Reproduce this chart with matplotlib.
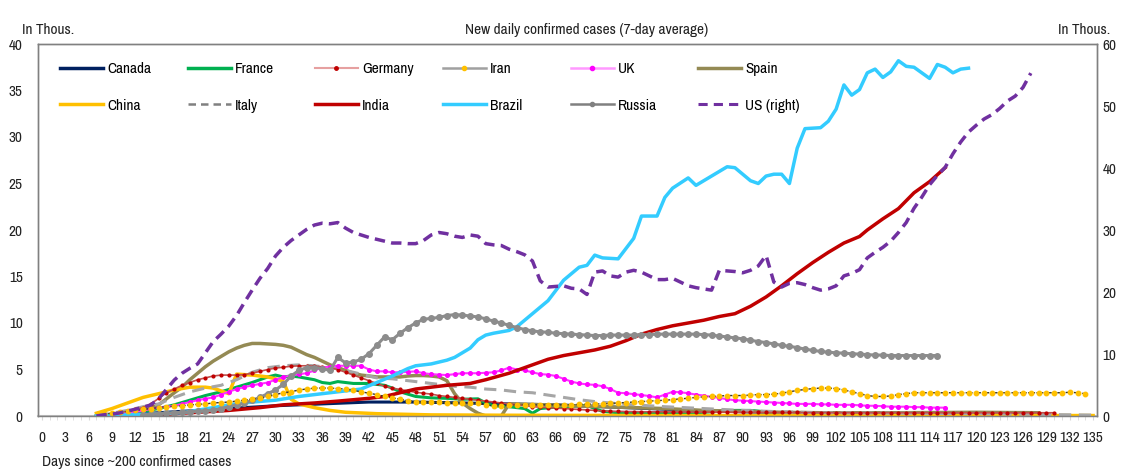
import matplotlib
matplotlib.use("Agg")
import matplotlib.pyplot as plt
from matplotlib import font_manager
from matplotlib.lines import Line2D
from matplotlib.legend import Legend
import numpy as np

names = {f.name for f in font_manager.fontManager.ttflist}
FONT = "Archivo Narrow" if "Archivo Narrow" in names else "Liberation Sans"
plt.rcParams["font.family"] = [FONT, "DejaVu Sans"]

# ---------------- data (thousands of new daily cases, 7-day avg) ----------------
canada_days = [7, 12, 18, 24, 30, 36, 42, 48, 54, 60, 66, 72, 78, 84, 90, 96, 102, 110, 118, 126]
canada_vals = [0, 0.2, 0.5, 0.8, 1.1, 1.3, 1.5, 1.5, 1.4, 1.3, 1.2, 1.0, 0.8, 0.6, 0.45, 0.35, 0.3, 0.3, 0.35, 0.35]

france_days = [7, 9, 11, 13, 15, 17, 19, 21, 23, 25, 27, 29, 30, 31, 32, 33, 35, 36, 37, 38, 40, 42, 44, 45,
               46, 48, 50, 52, 54, 56, 57, 58, 60, 62, 63, 64, 66, 68, 70, 71, 72, 74, 76, 80, 84, 87, 89,
               91, 93, 95, 100, 110, 120, 128]
france_vals = [0, 0.1, 0.25, 0.5, 0.8, 1.2, 1.7, 2.2, 2.6, 3.1, 3.6, 4.2, 4.4, 4.2, 4.3, 4.2, 3.9, 3.6, 3.5,
               3.7, 3.5, 3.5, 3.3, 3.0, 2.6, 2.1, 1.95, 1.9, 1.8, 1.85, 1.4, 1.1, 1.0, 0.8, 0.3, 0.8, 0.95,
               1.05, 1.15, 0.8, 0.5, 0.35, 0.3, 0.3, 0.35, 0.5, 0.6, 0.6, 0.45, 0.2, 0.15, 0.15, 0.15, 0.2]

germany_start = 8
germany_vals = [0.1, 0.2, 0.3, 0.5, 0.7, 0.9, 1.3, 1.9, 2.5, 2.9, 3.3, 3.6, 3.9, 4.1, 4.3, 4.4, 4.4, 4.4,
                4.45, 4.6, 4.8, 5.0, 5.15, 5.25, 5.35, 5.4, 5.4, 5.35, 5.3, 5.2, 5.0, 4.7, 4.4, 4.1, 3.8,
                3.5, 3.2, 3.0, 2.85, 2.7, 2.55, 2.45, 2.35, 2.2, 2.1, 2.0, 1.9, 1.8, 1.7, 1.6, 1.5, 1.4,
                1.3, 1.2, 1.1, 1.0, 0.95, 0.9, 0.85, 0.8, 0.75, 0.7, 0.65, 0.6, 0.55, 0.5, 0.5, 0.48,
                0.47, 0.46, 0.45, 0.45, 0.44, 0.44, 0.43, 0.43, 0.42, 0.42, 0.42, 0.41, 0.41, 0.4, 0.4,
                0.4, 0.4, 0.39, 0.39, 0.38, 0.38, 0.38, 0.37, 0.37, 0.37, 0.36, 0.36, 0.36, 0.35, 0.35,
                0.35, 0.35, 0.35, 0.35, 0.35, 0.35, 0.35, 0.35, 0.35, 0.35, 0.35, 0.35, 0.35, 0.35,
                0.35, 0.35, 0.35, 0.35, 0.35, 0.35, 0.35, 0.35, 0.35, 0.35, 0.35]

iran_start = 8
iran_vals = [0.2, 0.3, 0.4, 0.5, 0.6, 0.7, 0.8, 0.9, 1.0, 1.05, 1.1, 1.2, 1.25, 1.3, 1.4, 1.45, 1.5, 1.6,
             1.7, 1.8, 1.9, 2.1, 2.3, 2.5, 2.6, 2.8, 2.9, 3.0, 3.0, 3.0, 2.95, 2.9, 2.75, 2.6, 2.45, 2.3,
             2.1, 1.95, 1.8, 1.65, 1.55, 1.5, 1.5, 1.5, 1.45, 1.45, 1.4, 1.4, 1.35, 1.2, 1.1, 1.1, 1.15,
             1.2, 1.2, 1.2, 1.2, 1.2, 1.2, 1.2, 1.2, 1.25, 1.25, 1.3, 1.3, 1.35, 1.4, 1.45, 1.5, 1.55,
             1.6, 1.65, 1.7, 1.75, 1.85, 1.9, 2.0, 2.05, 2.1, 2.15, 2.2, 2.2, 2.2, 2.25, 2.3, 2.3, 2.35,
             2.45, 2.6, 2.75, 2.85, 2.95, 3.0, 3.0, 2.95, 2.8, 2.6, 2.4, 2.2, 2.1, 2.1, 2.15, 2.3, 2.4,
             2.5, 2.5, 2.5, 2.5, 2.5, 2.5, 2.5, 2.5, 2.5, 2.5, 2.5, 2.5, 2.5, 2.5, 2.5, 2.5, 2.5, 2.5,
             2.5, 2.5, 2.55, 2.5, 2.4]

uk_start = 9
uk_vals = [0.1, 0.2, 0.3, 0.45, 0.6, 0.75, 0.9, 1.0, 1.1, 1.3, 1.5, 1.7, 1.85, 2.0, 2.3, 2.6, 2.9, 3.1,
           3.3, 3.45, 3.6, 3.9, 4.2, 4.35, 4.5, 4.6, 4.9, 5.2, 5.3, 5.4, 5.4, 5.4, 5.4, 5.0, 4.8, 4.8,
           4.7, 4.7, 4.75, 4.8, 4.6, 4.5, 4.45, 4.4, 4.5, 4.6, 4.6, 4.6, 4.65, 4.7, 4.9, 5.2, 5.0, 4.9,
           4.7, 4.5, 4.45, 4.3, 4.0, 3.7, 3.5, 3.4, 3.35, 3.2, 2.9, 2.5, 2.45, 2.35, 2.25, 2.15, 2.0,
           2.3, 2.6, 2.55, 2.45, 2.3, 2.2, 2.05, 1.95, 1.8, 1.7, 1.65, 1.6, 1.55, 1.5, 1.45, 1.4, 1.35,
           1.3, 1.3, 1.3, 1.25, 1.25, 1.2, 1.2, 1.2, 1.15, 1.1, 1.1, 1.05, 1.0, 1.0, 1.0, 0.95, 0.95,
           0.9, 0.9, 0.9]

spain_days = [7, 9, 11, 13, 15, 17, 18, 19, 20, 21, 22, 23, 24, 25, 26, 27, 28, 29, 30, 31, 32, 33, 34,
              35, 36, 37, 38, 39, 40, 41, 42, 43, 44, 45, 46, 47, 48, 49, 50, 51, 52, 53, 54, 55, 56, 57,
              58, 59, 60, 62, 65, 68, 72, 76, 80, 85, 90, 95, 100, 110, 120, 128]
spain_vals = [0, 0.2, 0.4, 0.6, 1.2, 2.5, 3.1, 3.9, 4.6, 5.3, 5.9, 6.4, 6.9, 7.3, 7.6, 7.8, 7.8, 7.75,
              7.7, 7.6, 7.4, 7.0, 6.6, 6.3, 5.9, 5.5, 5.2, 4.9, 4.6, 4.4, 4.3, 4.2, 4.2, 4.2, 4.2, 4.3,
              4.35, 4.35, 4.3, 4.2, 3.8, 2.4, 1.4, 0.8, 0.3, 0.0, 0.0, 0.0, 1.3, 1.25, 1.2, 1.1, 1.0,
              0.9, 0.8, 0.6, 0.5, 0.4, 0.35, 0.35, 0.4, 0.35]

china_days = [7, 9, 11, 13, 15, 17, 19, 21, 22, 23, 24, 25, 27, 29, 30, 31, 32, 33, 35, 37, 39, 43, 50,
              60, 80, 100, 120, 135]
china_vals = [0.3, 0.8, 1.4, 2.0, 2.4, 2.8, 3.1, 3.1, 3.0, 2.7, 2.4, 4.5, 4.4, 4.2, 4.0, 3.7, 1.8, 1.3,
              0.9, 0.6, 0.4, 0.25, 0.12, 0.08, 0.05, 0.05, 0.05, 0.05]

italy_days = [7, 9, 11, 13, 15, 17, 19, 21, 23, 25, 27, 29, 31, 33, 35, 37, 39, 41, 43, 45, 47, 49, 51,
              53, 55, 57, 59, 61, 63, 65, 67, 69, 71, 73, 75, 77, 80, 85, 90, 95, 100, 110, 120, 130, 135]
italy_vals = [0, 0.3, 0.6, 1.0, 1.3, 2.0, 2.6, 3.0, 3.3, 3.9, 4.7, 5.2, 5.4, 5.5, 5.4, 5.2, 4.9, 4.5,
              4.1, 4.0, 3.8, 3.6, 3.4, 3.2, 3.1, 2.9, 2.8, 2.6, 2.5, 2.25, 2.0, 1.75, 1.55, 1.4, 1.25,
              1.15, 1.0, 0.8, 0.6, 0.45, 0.35, 0.3, 0.25, 0.15, 0.1]

india_days = [12, 16, 20, 24, 28, 31, 35, 38, 42, 44, 46, 48, 50, 52, 55, 57, 60, 63, 65, 67, 69, 71,
              73, 75, 77, 79, 81, 83, 85, 87, 89, 91, 93, 95, 97, 99, 101, 103, 105, 106, 108, 110, 112,
              114, 116]
india_vals = [0, 0.2, 0.4, 0.6, 0.9, 1.2, 1.4, 1.6, 1.9, 2.1, 2.5, 2.9, 3.1, 3.3, 3.5, 3.9, 4.6, 5.5,
              6.1, 6.5, 6.8, 7.1, 7.5, 8.1, 8.8, 9.3, 9.7, 10.0, 10.3, 10.7, 11.0, 11.8, 12.8, 14.0, 15.3,
              16.5, 17.6, 18.6, 19.3, 20.0, 21.2, 22.3, 24.0, 25.2, 26.7]

brazil_days = [7, 10, 14, 18, 22, 24, 27, 30, 33, 36, 39, 41, 43, 45, 47, 48, 50, 52, 53, 55, 56, 57,
               58, 60, 61, 62, 63, 64, 65, 67, 69, 70, 71, 72, 74, 76, 77, 79, 80, 81, 83, 84, 86, 88,
               89, 91, 92, 93, 94, 95, 96, 97, 98, 100, 101, 102, 103, 104, 105, 106, 107, 108, 109,
               110, 111, 112, 113, 114, 115, 116, 117, 118, 119]
brazil_vals = [0, 0.1, 0.2, 0.35, 0.9, 1.2, 1.5, 1.7, 2.1, 2.4, 2.7, 2.9, 3.6, 4.3, 5.1, 5.4, 5.6, 6.0,
               6.3, 7.3, 8.2, 8.7, 8.9, 9.2, 9.6, 10.3, 11.0, 11.7, 12.4, 14.6, 16.0, 16.2, 17.3, 17.0,
               16.9, 19.1, 21.5, 21.5, 23.5, 24.5, 25.6, 24.8, 25.8, 26.8, 26.7, 25.3, 25.0, 25.8, 26.0,
               26.0, 25.0, 28.8, 30.9, 31.0, 31.7, 33.0, 35.6, 34.5, 35.1, 36.9, 37.3, 36.4, 37.0, 38.2,
               37.6, 37.5, 36.9, 36.3, 37.8, 37.5, 36.9, 37.3, 37.4]

russia_start = 13
russia_vals = [0.1, 0.2, 0.25, 0.3, 0.35, 0.4, 0.45, 0.5, 0.55, 0.6, 0.8, 1.0, 1.2, 1.35, 1.7, 2.0, 2.4,
               2.8, 3.4, 4.3, 4.9, 5.2, 5.2, 5.1, 4.9, 6.3, 5.7, 5.8, 6.1, 6.7, 7.6, 8.5, 8.2, 8.9, 9.5,
               10.0, 10.4, 10.5, 10.6, 10.8, 10.9, 10.85, 10.75, 10.65, 10.45, 10.2, 10.0, 9.75, 9.5,
               9.3, 9.15, 9.05, 9.0, 8.9, 8.85, 8.8, 8.75, 8.7, 8.65, 8.65, 8.7, 8.7, 8.7, 8.7, 8.75,
               8.75, 8.8, 8.8, 8.8, 8.8, 8.8, 8.8, 8.75, 8.7, 8.6, 8.5, 8.4, 8.3, 8.15, 8.0, 7.9, 7.75,
               7.6, 7.5, 7.35, 7.2, 7.05, 6.95, 6.85, 6.8, 6.75, 6.7, 6.65, 6.6, 6.55, 6.55, 6.5, 6.5,
               6.5, 6.5, 6.5, 6.5, 6.5]

us_start = 7
us_vals = [0, 0.2, 0.3, 0.5, 0.8, 1.1, 1.4, 1.8, 2.8, 4.3, 5.8, 6.9, 7.7, 8.4, 10.2, 12.0, 13.2, 14.5,
           16.2, 18.3, 20.3, 22.2, 23.8, 25.8, 27.2, 28.3, 29.2, 30.1, 30.8, 31.1, 31.0, 31.2, 30.3,
           29.6, 29.2, 28.8, 28.5, 28.2, 27.9, 27.9, 27.8, 27.8, 28.3, 29.2, 29.6, 29.4, 29.0, 28.8,
           29.2, 29.0, 27.8, 27.6, 27.5, 26.9, 26.5, 26.0, 25.0, 21.8, 20.8, 20.9, 21.0, 20.6, 20.5,
           19.6, 23.2, 23.4, 22.6, 22.4, 23.2, 23.5, 23.2, 22.6, 22.0, 22.0, 22.2, 21.6, 21.0, 20.7,
           20.5, 20.3, 23.5, 23.4, 23.3, 23.1, 23.5, 24.2, 25.9, 21.6, 20.8, 21.4, 21.5, 21.2, 20.7,
           20.3, 20.5, 21.0, 22.6, 23.0, 23.6, 25.5, 26.4, 27.2, 28.2, 29.6, 31.2, 33.5, 35.3, 37.3,
           38.8, 40.1, 42.3, 44.2, 45.8, 46.9, 47.9, 48.6, 49.6, 50.8, 51.6, 53.0, 55.3]

x_ticks = list(range(0, 136, 3))
left_ticks = [0, 5, 10, 15, 20, 25, 30, 35, 40]
right_ticks = [0, 10, 20, 30, 40, 50, 60]

FS = 11

# ---------------- figure ----------------
fig = plt.figure(figsize=(11.37, 4.72), dpi=100)
ax = fig.add_axes([38 / 1137, 56 / 472, 1059 / 1137, 372 / 472])
ax2 = ax.twinx()

def rng(start, vals):
    return np.arange(start, start + len(vals))

ax.plot(canada_days, canada_vals, color="#002060", lw=2.2, zorder=3)
ax.plot(france_days, france_vals, color="#00B050", lw=2.2, zorder=3)
ax.plot(rng(germany_start, germany_vals), germany_vals, color="#C0504D", lw=1.2,
        marker="o", ms=2, mfc="#C00000", mec="#C00000", zorder=4)
ax.plot(rng(iran_start, iran_vals), iran_vals, color="#333333", lw=1.0, ls=(0, (2, 1)),
        marker="o", ms=3.2, mfc="#FFC000", mec="#FFC000", zorder=5)
ax.plot(rng(uk_start, uk_vals), uk_vals, color="#FF33FF", lw=1.5,
        marker="o", ms=2.6, mfc="#FF00FF", mec="#FF00FF", zorder=4)
ax.plot(spain_days, spain_vals, color="#948A54", lw=2.5, zorder=3)
ax.plot(china_days, china_vals, color="#FFC000", lw=2.5, zorder=3)
ax.plot(italy_days, italy_vals, color="#A6A6A6", lw=2.2, ls=(0, (4, 2.5)), zorder=3)
ax.plot(india_days, india_vals, color="#C00000", lw=2.5, zorder=4)
ax.plot(brazil_days, brazil_vals, color="#33CCFF", lw=2.5, zorder=4)
ax.plot(rng(russia_start, russia_vals), russia_vals, color="#8C8C8C", lw=2.2,
        marker="o", ms=4, mfc="#8C8C8C", mec="#8C8C8C", zorder=4)
ax2.plot(rng(us_start, us_vals), us_vals, color="#7030A0", lw=2.5, ls=(0, (3, 1.8)), zorder=5)

ax.set_xlim(-0.5, 135.5)
ax.set_ylim(0, 40)
ax2.set_ylim(0, 60)

ax.set_xticks(x_ticks)
ax.set_xticklabels([str(t) for t in x_ticks])
ax.set_xticks(range(0, 136), minor=True)
ax.tick_params(axis="x", which="major", length=3, color="#D9D9D9", labelsize=FS, pad=8, labelcolor="#222222")
ax.tick_params(axis="x", which="minor", length=3, color="#D9D9D9")
ax.set_yticks(left_ticks)
ax.tick_params(axis="y", length=0, labelsize=FS, pad=11, labelcolor="#222222")
ax2.set_yticks(right_ticks)
ax2.tick_params(axis="y", length=0, labelsize=FS, pad=4, labelcolor="#222222")

for a in (ax, ax2):
    for s in a.spines.values():
        s.set_color("#808080")
        s.set_linewidth(1.0)
ax.spines["bottom"].set_color("#BFBFBF")
ax.spines["bottom"].set_linewidth(1.5)

# legend: 6 columns x 2 rows, fixed column positions like the original
legend_cols = [
    [("Canada", dict(color="#002060", lw=2.5)), ("China", dict(color="#FFC000", lw=2.5))],
    [("France", dict(color="#00B050", lw=2.5)), ("Italy", dict(color="#808080", lw=1.8, ls=(0, (3, 2))))],
    [("Germany", dict(color="#E6A0A0", lw=1.5, marker="o", ms=2.5, mfc="#C00000", mec="#C00000")),
     ("India", dict(color="#C00000", lw=2.5))],
    [("Iran", dict(color="#A0A0A0", lw=1.8, marker="o", ms=3, mfc="#FFC000", mec="#FFC000")),
     ("Brazil", dict(color="#33CCFF", lw=2.5))],
    [("UK", dict(color="#FF99FF", lw=1.8, marker="o", ms=3, mfc="#FF00FF", mec="#FF00FF")),
     ("Russia", dict(color="#808080", lw=1.8, marker="o", ms=3, mfc="#808080", mec="#808080"))],
    [("Spain", dict(color="#948A54", lw=2.5)),
     ("US (right)", dict(color="#7030A0", lw=2.2, ls=(0, (3, 2))))],
]
col_px = [60, 188, 315, 443, 571, 698]
for cx, entries in zip(col_px, legend_cols):
    handles = [Line2D([], [], **kw) for _, kw in entries]
    labels = [lab for lab, _ in entries]
    lg = Legend(ax2, handles, labels, loc="upper left", bbox_to_anchor=((cx - 38) / 1059, 0.952),
                frameon=False, fontsize=FS, handlelength=2.8, handletextpad=0.3,
                labelspacing=1.5, borderpad=0, borderaxespad=0, numpoints=1)
    ax2.add_artist(lg)

fig.text(22 / 1137, 1 - 30 / 472, "In Thous.", fontsize=FS, va="center", ha="left", color="#222222")
fig.text(1110 / 1137, 1 - 30 / 472, "In Thous.", fontsize=FS, va="center", ha="right", color="#222222")
fig.text(587 / 1137, 1 - 30 / 472, "New daily confirmed cases (7-day average)", fontsize=FS,
         va="center", ha="center", color="#222222")
fig.text(42 / 1137, 1 - 462 / 472, "Days since ~200 confirmed cases", fontsize=FS,
         va="center", ha="left", color="#222222")

fig.savefig("out.png", dpi=100)
